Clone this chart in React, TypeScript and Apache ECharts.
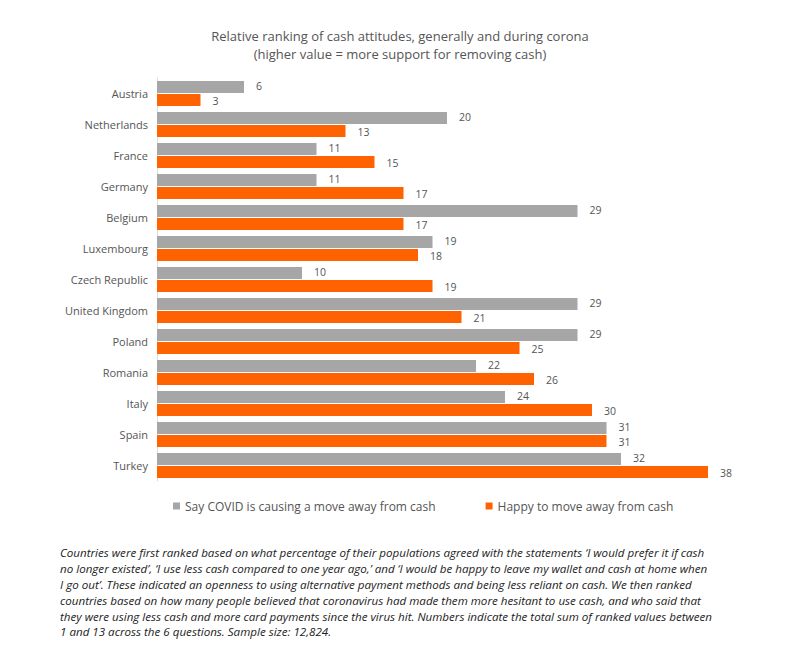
import React, { useEffect, useRef } from 'react'
import * as echarts from 'echarts'

const countries = ['Austria', 'Netherlands', 'France', 'Germany', 'Belgium', 'Luxembourg', 'Czech Republic', 'United Kingdom', 'Poland', 'Romania', 'Italy', 'Spain', 'Turkey']
const covidValues = [6, 20, 11, 11, 29, 19, 10, 29, 29, 22, 24, 31, 32]
const happyValues = [3, 13, 15, 17, 17, 18, 19, 21, 25, 26, 30, 31, 38]

const note =
  "Countries were first ranked based on what percentage of their populations agreed with the statements ‘I would prefer it if cash\nno longer existed’, ‘I use less cash compared to one year ago,’ and ‘I would be happy to leave my wallet and cash at home when\nI go out’. These indicated an openness to using alternative payment methods and being less reliant on cash. We then ranked\ncountries based on how many people believed that coronavirus had made them more hesitant to use cash, and who said that\nthey were using less cash and more card payments since the virus hit. Numbers indicate the total sum of ranked values between\n1 and 13 across the 6 questions. Sample size: 12,824."

function App() {
  const chartRef = useRef(null)

  useEffect(() => {
    const chart = echarts.init(chartRef.current, null, { renderer: 'svg' })
    const font = 'Open Sans, sans-serif'
    chart.setOption({
      animation: false,
      textStyle: { fontFamily: font },
      title: {
        text: 'Relative ranking of cash attitudes, generally and during corona\n(higher value = more support for removing cash)',
        left: 'center',
        top: 14,
        textStyle: { fontSize: 13, fontWeight: 'normal', color: '#555', lineHeight: 18, fontFamily: font },
      },
      legend: {
        bottom: 123,
        left: 160,
        itemGap: 50,
        itemWidth: 7,
        itemHeight: 7,
        icon: 'rect',
        textStyle: { fontSize: 12, color: '#555' },
        data: ['Say COVID is causing a move away from cash', 'Happy to move away from cash'],
      },
      grid: { left: 149, right: 55, top: 70, bottom: 159 },
      xAxis: { type: 'value', min: 0, max: 40, show: false },
      yAxis: {
        type: 'category',
        data: countries,
        inverse: true,
        axisLine: { lineStyle: { color: '#ddd' } },
        axisTick: { show: false },
        axisLabel: { fontSize: 11, color: '#555', margin: 9 },
      },
      series: [
        {
          name: 'Say COVID is causing a move away from cash',
          type: 'bar',
          data: covidValues,
          barWidth: 12,
          barGap: '8%',
          itemStyle: { color: '#a6a6a6' },
          label: { show: true, position: 'right', fontSize: 10.5, color: '#555', distance: 12, offset: [0, -1] },
        },
        {
          name: 'Happy to move away from cash',
          type: 'bar',
          data: happyValues,
          barWidth: 12,
          itemStyle: { color: '#ff6200' },
          label: { show: true, position: 'right', fontSize: 10.5, color: '#555', distance: 12, offset: [0, 1] },
        },
      ],
      graphic: [
        {
          type: 'text',
          left: 52,
          top: 537,
          style: { text: note, font: `italic 11.6px ${font}`, fill: '#222', lineHeight: 15.8 },
        },
      ],
    })
    return () => chart.dispose()
  }, [])

  return <div ref={chartRef} style={{ width: 784, height: 632 }}></div>
}

export default App
